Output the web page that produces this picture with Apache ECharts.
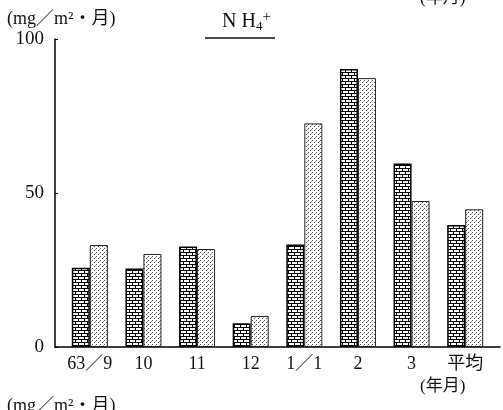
<!DOCTYPE html>
<html><head><meta charset="utf-8">
<script src="https://cdn.jsdelivr.net/npm/echarts@6/dist/echarts.min.js"></script>
<style>html,body{margin:0;padding:0;background:#fff}#c{width:503px;height:410px}</style>
</head><body><div id="c"></div>
<script>
const categories = ['63／9', '10', '11', '12', '1／1', '2', '3', '平均'];
const seriesA = [25.7, 25.5, 32.6, 7.7, 33.3, 90.3, 59.6, 39.6];
const seriesB = [33.1, 30.2, 31.8, 10.1, 72.6, 87.3, 47.4, 44.7];
const yTicks = [0, 50, 100];
const unitLabel = '(mg／m²・月)';
const xUnitLabel = '(年月)';

const FONT = '"Liberation Serif", "Noto Sans CJK JP", serif';

function brickPattern() {
  const c = document.createElement('canvas');
  c.width = 12; c.height = 6;
  const g = c.getContext('2d');
  g.fillStyle = '#000'; g.fillRect(0, 0, 12, 6);
  g.fillStyle = '#fff';
  g.fillRect(1, 1, 5, 2);
  g.fillRect(7, 1, 5, 2);
  g.fillRect(4, 4, 5, 2);
  g.fillRect(10, 4, 2, 2);
  g.fillRect(0, 4, 3, 2);
  return c;
}
function dotPattern() {
  const c = document.createElement('canvas');
  c.width = 4; c.height = 4;
  const g = c.getContext('2d');
  g.fillStyle = '#fff'; g.fillRect(0, 0, 4, 4);
  g.fillStyle = '#555';
  g.fillRect(0, 0, 1, 1);
  g.fillRect(2, 2, 1, 1);
  g.fillStyle = '#aaa';
  g.fillRect(3, 1, 1, 1);
  return c;
}

const chart = echarts.init(document.getElementById('c'), null, {renderer: 'canvas'});
chart.setOption({
  animation: false,
  backgroundColor: '#fff',
  grid: [
    {left: 55, right: 3, top: 39, bottom: 63},
    {left: 63, right: 11, top: 39, bottom: 63}
  ],
  xAxis: [
    {type: 'value', gridIndex: 0, min: 0, max: 1,
     axisLine: {show: true, onZero: false, lineStyle: {color: '#000', width: 1.5}},
     axisTick: {show: false}, axisLabel: {show: false}, splitLine: {show: false}},
    {type: 'category', gridIndex: 1, data: categories,
     axisLine: {show: false}, axisTick: {show: false}, splitLine: {show: false},
     axisLabel: {color: '#111', fontFamily: FONT, fontSize: 18, margin: 8, interval: 0}}
  ],
  yAxis: [
    {type: 'value', gridIndex: 0, min: yTicks[0], max: yTicks[yTicks.length - 1], interval: 50,
     axisLine: {show: true, lineStyle: {color: '#000', width: 1.5}},
     axisTick: {show: true, inside: true, length: 3, lineStyle: {color: '#000'}},
     splitLine: {show: false},
     axisLabel: {color: '#111', fontFamily: FONT, fontSize: 19, margin: 11}},
    {type: 'value', gridIndex: 1, min: 0, max: 100, show: false}
  ],
  series: [
    {type: 'bar', xAxisIndex: 1, yAxisIndex: 1, data: seriesA, barWidth: 18, barGap: '0%',
     itemStyle: {color: {image: brickPattern(), repeat: 'repeat'}, borderColor: '#000', borderWidth: 1.5}},
    {type: 'bar', xAxisIndex: 1, yAxisIndex: 1, data: seriesB, barWidth: 18, barGap: '0%',
     itemStyle: {color: {image: dotPattern(), repeat: 'repeat'}, borderColor: '#222', borderWidth: 1}}
  ],
  graphic: [
    {type: 'text', left: 7, top: 10, style: {text: unitLabel, font: '18px ' + FONT, fill: '#111'}},
    {type: 'text', left: 222, top: 10, style: {
      text: '{n|N H}{s|4}{p|+}', fill: '#111',
      rich: {
        n: {font: '20px ' + FONT, fill: '#111'},
        s: {font: '13px ' + FONT, fill: '#111', verticalAlign: 'bottom', padding: [8, 0, 0, 0]},
        p: {font: '15px ' + FONT, fill: '#111', verticalAlign: 'top', padding: [0, 0, 8, 0]}
      }}},
    {type: 'line', shape: {x1: 205, y1: 38, x2: 275, y2: 38}, style: {stroke: '#111', lineWidth: 1.5}},
    {type: 'text', left: 420, top: -10, style: {text: xUnitLabel, font: '17px ' + FONT, fill: '#111'}},
    {type: 'text', left: 420, top: 378, style: {text: xUnitLabel, font: '17px ' + FONT, fill: '#111'}},
    {type: 'text', left: 7, top: 397, style: {text: unitLabel, font: '18px ' + FONT, fill: '#111'}}
  ]
});
</script></body></html>
